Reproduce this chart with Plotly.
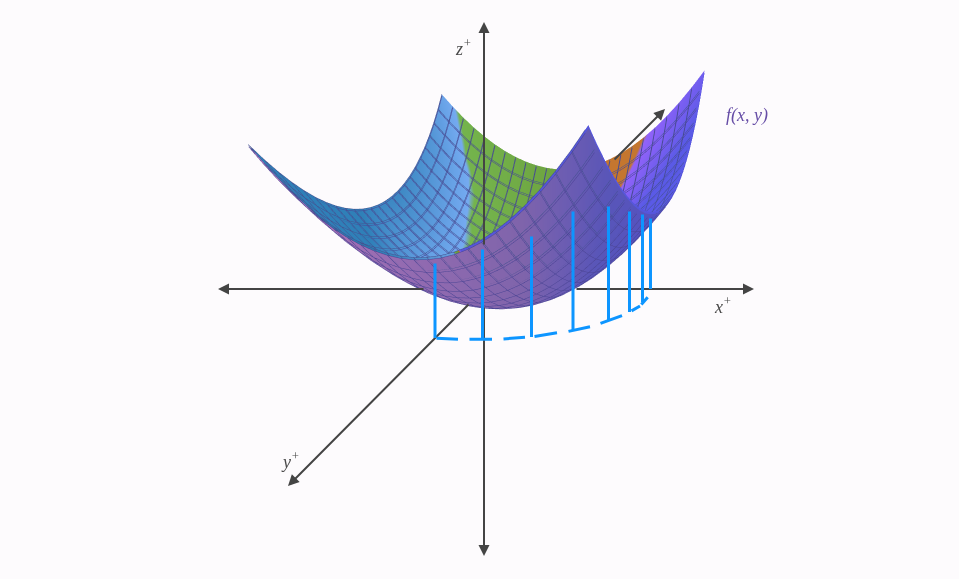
import numpy as np
import plotly.graph_objects as go

# surface samples: heights for one quadrant, distance from the bowl's lowest point
grid_x = [-12,-11,-10,-9,-8,-7,-6,-5,-4,-3,-2,-1,0,1,2,3,4,5,6,7,8,9,10,11,12]
grid_y = [-12,-11,-10,-9,-8,-7,-6,-5,-4,-3,-2,-1,0,1,2,3,4,5,6,7,8,9,10,11,12]
z_quadrant = [
 [0,1,4,9,16,25,36,49,64,81,100,121,144],
 [1,2,5,10,17,26,37,50,65,82,101,122,145],
 [4,5,8,13,20,29,40,53,68,85,104,125,148],
 [9,10,13,18,25,34,45,58,73,90,109,130,153],
 [16,17,20,25,32,41,52,65,80,97,116,137,160],
 [25,26,29,34,41,50,61,74,89,106,125,146,169],
 [36,37,40,45,52,61,72,85,100,117,136,157,180],
 [49,50,53,58,65,74,85,98,113,130,149,170,193],
 [64,65,68,73,80,89,100,113,128,145,164,185,208],
 [81,82,85,90,97,106,117,130,145,162,181,202,225],
 [100,101,104,109,116,125,136,149,164,181,200,221,244],
 [121,122,125,130,137,146,157,170,185,202,221,242,265],
 [144,145,148,153,160,169,180,193,208,225,244,265,288],
]
# where the blue patch ends, for each grid_y row
blue_edge_x = [4,4,4,4,4,2,0,-2,-3,-4,-5,-5.5,-6,-6,-6,-6.2,-6.5,-6.8,-7.1,-7.5,-7.8,-8.2,-9,-9.8,-10.6]
# vertical stems: x, top, foot (picture pixels)
stem_x = [435,482.5,531.5,573,608.5,629.5,642.5,650.5]
stem_top = [262,248,235,210,205,210,213,217]
stem_foot = [338,339,337,330,320,312,302,289]
# dashes of the curve below the surface
dash_x = [[435,458],[468,492],[502,525],[533,557],[567,590],[599,622],[630,640,647.7]]
dash_y = [[338.3,339.3],[339.3,339.3],[339,337.3],[336.7,332.7],[331.7,326.7],[324,315.7],[311.7,306,297.3]]
# axes: visible pieces (tail x, tail y, head x, head y)
axis_pieces = [
 (425,289,218,289),(575,289,754,289),
 (484,246,484,22),(484,306,484,556),
 (470,303,288,486),(613,161,665,109),
]
labels = [("z<sup>+</sup>",463,47,"#4a4a4a",18),("x<sup>+</sup>",723,305,"#4a4a4a",18),
          ("y<sup>+</sup>",290,460,"#4a4a4a",18),("f(x, y)",747,115,"#664da6",18)]

idx = np.abs(np.array(grid_x))
Q = np.array(z_quadrant, float)
Z = Q[np.ix_(idx, idx)]
X, Y = np.meshgrid(grid_x, grid_y)
edge = np.array(blue_edge_x)[:, None]

# colour of the inner face: blue left of the edge, then by bearing round the bowl centre
bearing = np.degrees(np.arctan2(-X, -Y)) % 360
past = X - edge
shade = np.where(past < 0, np.maximum(138 + 4*past, 100), np.where(bearing > 139, bearing, 138.5 + past))
stops = [(0,"#2f80b8"),(108,"#2f80b8"),(138,"#78acf4"),(138.01,"#74b44c"),(195,"#6a9a3a"),
         (195.01,"#c4762f"),(212,"#c4762f"),(212.01,"#9262fa"),(235,"#5a5ae6"),(360,"#5a5ae6")]
inner_scale = [[a/360,c] for a,c in stops]
tone = (X*0.843+Y*0.537)/12
outer_scale = [[0,"#d484cc"],[0.2,"#a474bc"],[0.5,"#8669b4"],[0.65,"#5e5ac2"],[1,"#4e4cde"]]
mesh_in = dict(show=True,start=-12,end=12,size=1,color="#44508f",width=1)
mesh_out = dict(show=True,start=-12,end=12,size=1,color="#4a4494",width=1)
light = dict(ambient=0.95,diffuse=0.15,specular=0,roughness=1,fresnel=0)

fig = go.Figure()
fig.add_trace(go.Surface(x=grid_x,y=grid_y,z=Z,surfacecolor=shade,cmin=0,cmax=360,colorscale=inner_scale,
    showscale=False,hoverinfo="skip",lighting=light,contours=dict(x=mesh_in,y=mesh_in)))
fig.add_trace(go.Surface(x=grid_x,y=grid_y,z=Z-3,surfacecolor=tone,cmin=-1.38,cmax=1.38,colorscale=outer_scale,
    showscale=False,hoverinfo="skip",lighting=light,contours=dict(x=mesh_out,y=mesh_out)))
# empty trace that brings the pixel-scaled 2D axes used by the overlay
fig.add_trace(go.Scatter(x=[0,959],y=[0,579],mode="none",hoverinfo="skip",showlegend=False))

ann=[]
def seg(x0,y0,x1,y1,color,width,head):
    ann.append(dict(x=x1,y=y1,ax=x0,ay=y0,xref="x",yref="y",axref="x",ayref="y",text="",showarrow=True,
        arrowhead=head,arrowsize=1.1,arrowwidth=width,arrowcolor=color,standoff=0,startstandoff=0))
for x0,y0,x1,y1 in axis_pieces:
    seg(x0,y0,x1,y1,"#444444",2,2)
for x,t,f in zip(stem_x,stem_top,stem_foot):
    seg(x,t,x,f,"#0d95ff",3,0)
for dx,dy in zip(dash_x,dash_y):
    for i in range(len(dx)-1):
        seg(dx[i],dy[i],dx[i+1],dy[i+1],"#0d95ff",3,0)
for t,x,y,c,s in labels:
    ann.append(dict(x=x,y=y,xref="x",yref="y",text="<i>"+t+"</i>",showarrow=False,font=dict(family="Liberation Serif",size=s,color=c)))

BG="#fdfbfd"
fig.update_layout(width=959,height=579,margin=dict(l=0,r=0,t=0,b=0),paper_bgcolor=BG,plot_bgcolor="rgba(0,0,0,0)",
    showlegend=False,annotations=ann,
    xaxis=dict(range=[0,959],visible=False,fixedrange=True),
    yaxis=dict(range=[579,0],visible=False,fixedrange=True),
    scene=dict(domain=dict(x=[0,1],y=[0,1]),bgcolor="rgba(0,0,0,0)",
      xaxis=dict(visible=False,range=[-12,12]),yaxis=dict(visible=False,range=[-12,12]),zaxis=dict(visible=False,range=[0,288]),
      aspectmode="manual",aspectratio=dict(x=1,y=1,z=0.615),
      camera=dict(eye=dict(x=1.050,y=-1.859,z=0.5115),center=dict(x=-0.103,y=-0.049,z=-0.2695),up=dict(x=-0.065,y=0.360,z=0.931))))
fig.write_html("out.html",config=dict(displayModeBar=False),post_script="document.body.style.margin='0';document.body.style.background='"+BG+"';")
